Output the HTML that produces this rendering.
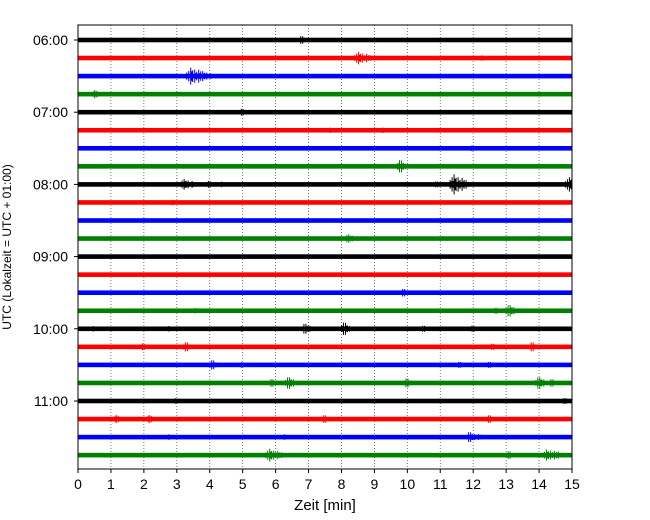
<!DOCTYPE html>
<html><head><meta charset="utf-8">
<style>
body{margin:0;background:#fff;}
svg{display:block;font-family:"Liberation Sans","DejaVu Sans",sans-serif;}
</style></head>
<body>
<svg id="chart" width="650" height="520" viewBox="0 0 650 520">
<defs><clipPath id="pc"><rect x="78" y="25" width="494" height="444"/></clipPath></defs>
<rect x="0" y="0" width="650" height="520" fill="#fff"/>
<g id="grid"></g>
<g id="traces" clip-path="url(#pc)"></g>
<rect x="78" y="25" width="494" height="444" fill="none" stroke="#000" stroke-width="1"/>
<g id="axes"></g>
<text x="325" y="510" font-size="15" text-anchor="middle">Zeit  [min]</text>
<text transform="translate(11,247) rotate(-90)" font-size="12" text-anchor="middle">UTC (Lokalzeit = UTC + 01:00)</text>
</svg>
<script>
const xTicks=[0,1,2,3,4,5,6,7,8,9,10,11,12,13,14,15];
const traceCount=24;
const colors=["#000000","#ff0000","#0000ff","#008000"];
const hourLabels=["06:00","07:00","08:00","09:00","10:00","11:00"];
// events: [trace, minute, amplitude(px), duration(min)]
const eventTrace=[0,1,1,2,3,4,5,5,6,7,7,8,8,8,8,8,8,9,11,11,13,14,14,15,15,15,16,16,16,16,16,16,16,17,17,17,17,18,18,18,18,19,19,19,19,19,20,20,21,21,21,21,22,22,22,22,23,23,23];
const eventMin=[6.7,8.4,12.2,3.3,0.45,4.9,7.6,9.2,11.9,9.7,0.3,3.1,3.9,4.3,11.3,14.8,10.8,2.8,8.1,13.9,1.5,9.8,7.9,3.5,12.6,13.0,0.4,2.7,4.9,6.8,8.0,10.4,11.9,1.9,3.2,12.5,13.7,4.0,4.9,11.5,12.4,5.8,6.3,9.9,13.9,14.3,2.9,14.7,1.1,2.1,7.4,12.4,2.7,6.2,11.8,12.1,5.7,13.0,14.1];
const eventAmp=[5,7,4,9,6,5,4,4,4,8,3,6,5,4,11,8,4,4,5,4,3,5,3,4,4,7,4,4,4,6,8,4,4,5,6,4,6,6,4,4,4,5,7,6,7,5,4,4,6,6,5,5,4,4,6,4,7,5,6];
const eventDur=[0.3,0.6,0.2,0.8,0.2,0.2,0.2,0.2,0.2,0.3,0.2,0.6,0.2,0.2,0.6,0.6,0.3,0.2,0.5,0.2,0.2,0.3,0.2,0.2,0.3,0.4,0.2,0.2,0.2,0.4,0.3,0.3,0.3,0.2,0.3,0.3,0.3,0.3,0.2,0.3,0.3,0.3,0.4,0.3,0.4,0.3,0.2,0.3,0.2,0.2,0.3,0.3,0.2,0.2,0.4,0.2,0.6,0.3,0.8];
const NS="http://www.w3.org/2000/svg";
const X0=78,X1=572,Y0=40,DY=18.05;
const wiggle=[1,0.45,0.8,0.3,0.95,0.55,0.7,0.25,0.85,0.4,0.6,0.35];
function xs(m){return X0+(m/15)*(X1-X0);}
function ys(i){return Y0+i*DY;}
function mk(tag,attrs,parent){const e=document.createElementNS(NS,tag);for(const k in attrs)e.setAttribute(k,attrs[k]);parent.appendChild(e);return e;}
const grid=document.getElementById('grid'),tr=document.getElementById('traces'),ax=document.getElementById('axes');
xTicks.forEach(t=>{
  if(t>0&&t<15){const l=mk('line',{x1:xs(t),x2:xs(t),y1:25,y2:469,stroke:'#555','stroke-width':0.8,'stroke-dasharray':'1,2'},grid);
  
  }
  const tk=mk('line',{x1:xs(t),x2:xs(t),y1:469,y2:473,stroke:'#000'},ax);
  
  
  const tx=mk('text',{x:xs(t),y:489,'font-size':14,'text-anchor':'middle'},ax);tx.textContent=t;
  
  
});
hourLabels.forEach((h,k)=>{
  const y=ys(k*4);
  const tk=mk('line',{x1:74,x2:78,y1:y,y2:y,stroke:'#000'},ax);
  
  
  const tx=mk('text',{x:68,y:y+5,'font-size':14,'text-anchor':'end'},ax);tx.textContent=h;
  
  
});
for(let i=0;i<traceCount;i++){
  const g=mk('g',{},tr);
  
  
  const y=ys(i);
  mk('rect',{x:X0,y:y-2.3,width:X1-X0,height:4.6,fill:colors[i%4]},g);
}
for(let j=0;j<eventTrace.length;j++){
  const i=eventTrace[j],y=ys(i),c=colors[i%4];
  const a=xs(eventMin[j]),b=xs(eventMin[j]+eventDur[j]);
  const span=Math.max(b-a,2);
  let d='';let s=1,k=0;
  for(let x=a;x<=a+span;x+=1.0){
    const u=(x-a)/span;
    const env=u<0.15?0.4+4*u:1-(u-0.15)*0.9;
    const h=eventAmp[j]*env*wiggle[k%wiggle.length];
    d+=(d?' ':'')+'M'+x.toFixed(1)+' '+(y-h).toFixed(1)+' L'+x.toFixed(1)+' '+(y+h).toFixed(1);
    k++;
  }
  const p=mk('path',{d:d,stroke:c,'stroke-width':1,fill:'none'},tr);
  
  
}
</script>
</body></html>
